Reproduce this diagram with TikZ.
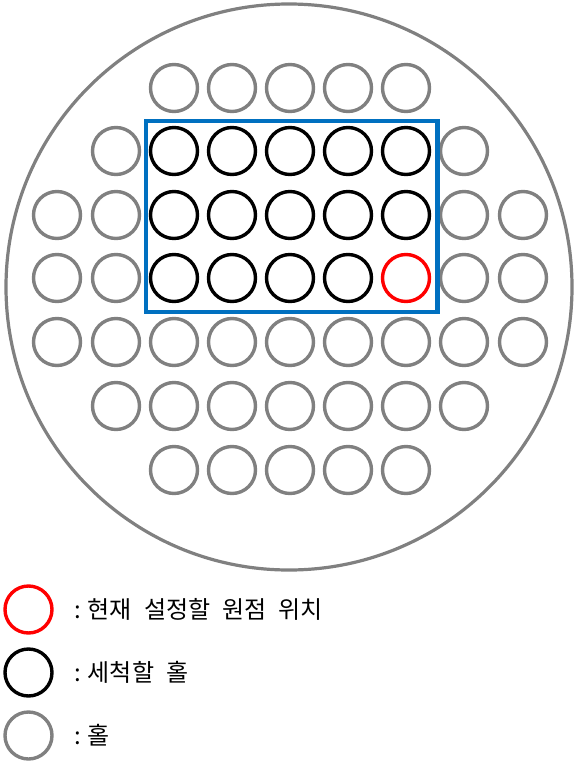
\documentclass[tikz,border=0pt]{standalone}
\usepackage{fontspec}
\newfontfamily\kr{Noto Sans CJK KR}
\newcommand\wg{\hspace{12pt}}
\begin{document}
\begin{tikzpicture}[x=1pt,y=-1pt,
  hole/.style={circle,minimum size=47pt,inner sep=0pt,line width=3.4pt},
  grayhole/.style={hole,draw={rgb,255:red,128;green,128;blue,128}},
  blackhole/.style={hole,draw=black},
  redhole/.style={hole,draw={rgb,255:red,255;green,0;blue,0}},
  legend/.style={anchor=west,inner sep=0pt,font=\kr\fontsize{24}{28}\selectfont}]
\useasboundingbox (0,0) rectangle (579,765);
\node[circle,draw={rgb,255:red,128;green,128;blue,128},line width=3.2pt,minimum size=566pt,inner sep=0pt] (plate) at (289,287) {};
% column x positions
\def\colx#1{\ifcase#1\or 57\or 116\or 174\or 232\or 290\or 348\or 406\or 464\or 523\fi}
% row 1
\foreach \c in {3,...,7} \node[grayhole] (h1-\c) at (\colx{\c},88) {};
% row 2
\foreach \c in {2,8} \node[grayhole] (h2-\c) at (\colx{\c},151) {};
\foreach \c in {3,...,7} \node[blackhole] (h2-\c) at (\colx{\c},151) {};
% row 3
\foreach \c in {1,2,8,9} \node[grayhole] (h3-\c) at (\colx{\c},215) {};
\foreach \c in {3,...,7} \node[blackhole] (h3-\c) at (\colx{\c},215) {};
% row 4
\foreach \c in {1,2,8,9} \node[grayhole] (h4-\c) at (\colx{\c},278) {};
\foreach \c in {3,...,6} \node[blackhole] (h4-\c) at (\colx{\c},278) {};
\node[redhole] (h4-7) at (406,278) {};
% row 5
\foreach \c in {1,...,9} \node[grayhole] (h5-\c) at (\colx{\c},342) {};
% row 6
\foreach \c in {2,...,8} \node[grayhole] (h6-\c) at (\colx{\c},406) {};
% row 7
\foreach \c in {3,...,7} \node[grayhole] (h7-\c) at (\colx{\c},470) {};
% selection box
\draw[draw={rgb,255:red,0;green,112;blue,192},line width=4.2pt] (146,121) rectangle (437.5,312);
% legend
\node[redhole] (lr) at (28.5,609.5) {};
\node[blackhole] (lb) at (28.5,672.5) {};
\node[grayhole] (lg) at (28.5,735.5) {};
\node[legend] (tr) at (74,609) {:\hspace{7pt}현재\wg 설정할\wg 원점\wg 위치};
\node[legend] (tb) at (74,672) {:\hspace{7pt}세척할\wg 홀};
\node[legend] (tg) at (74,735) {:\hspace{7pt}홀};
\end{tikzpicture}
\end{document}
